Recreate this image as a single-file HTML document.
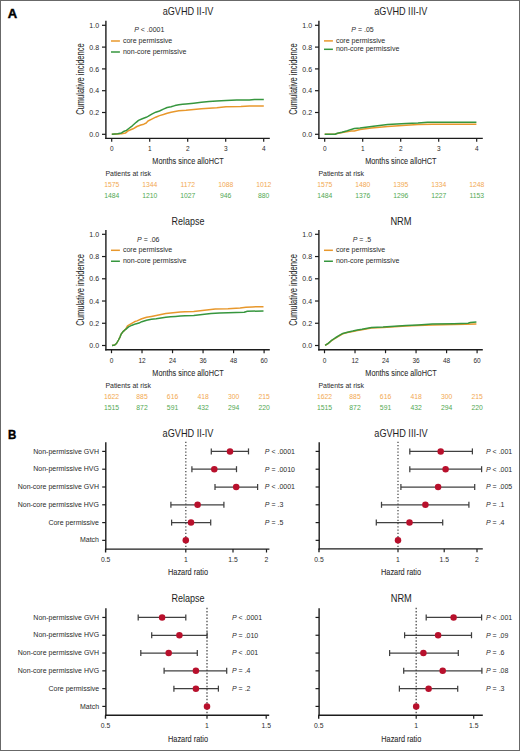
<!DOCTYPE html>
<html><head><meta charset="utf-8"><title>Figure</title>
<style>
html,body{margin:0;padding:0;background:#fff;}
body{width:520px;height:751px;overflow:hidden;}
svg{display:block;font-family:"Liberation Sans", sans-serif;}
</style></head>
<body>
<svg width="520" height="751" viewBox="0 0 520 751">
<rect x="0" y="0" width="520" height="751" fill="#fff"/>
<line x1="105.90" y1="20.80" x2="105.90" y2="139.10" stroke="#1c1c1c" stroke-width="1.4"/>
<line x1="105.20" y1="138.40" x2="269.80" y2="138.40" stroke="#1c1c1c" stroke-width="1.4"/>
<line x1="102.00" y1="134.30" x2="105.90" y2="134.30" stroke="#1c1c1c" stroke-width="1.2"/>
<text x="99.10" y="136.90" font-size="8.0" fill="#2b2b2b" text-anchor="end" textLength="9.73" lengthAdjust="spacingAndGlyphs">0.0</text>
<line x1="102.00" y1="112.50" x2="105.90" y2="112.50" stroke="#1c1c1c" stroke-width="1.2"/>
<text x="99.10" y="115.10" font-size="8.0" fill="#2b2b2b" text-anchor="end" textLength="9.73" lengthAdjust="spacingAndGlyphs">0.2</text>
<line x1="102.00" y1="90.70" x2="105.90" y2="90.70" stroke="#1c1c1c" stroke-width="1.2"/>
<text x="99.10" y="93.30" font-size="8.0" fill="#2b2b2b" text-anchor="end" textLength="9.73" lengthAdjust="spacingAndGlyphs">0.4</text>
<line x1="102.00" y1="68.90" x2="105.90" y2="68.90" stroke="#1c1c1c" stroke-width="1.2"/>
<text x="99.10" y="71.50" font-size="8.0" fill="#2b2b2b" text-anchor="end" textLength="9.73" lengthAdjust="spacingAndGlyphs">0.6</text>
<line x1="102.00" y1="47.10" x2="105.90" y2="47.10" stroke="#1c1c1c" stroke-width="1.2"/>
<text x="99.10" y="49.70" font-size="8.0" fill="#2b2b2b" text-anchor="end" textLength="9.73" lengthAdjust="spacingAndGlyphs">0.8</text>
<line x1="102.00" y1="25.30" x2="105.90" y2="25.30" stroke="#1c1c1c" stroke-width="1.2"/>
<text x="99.10" y="27.90" font-size="8.0" fill="#2b2b2b" text-anchor="end" textLength="9.73" lengthAdjust="spacingAndGlyphs">1.0</text>
<line x1="111.70" y1="138.40" x2="111.70" y2="141.80" stroke="#1c1c1c" stroke-width="1.2"/>
<text x="111.70" y="150.90" font-size="8.0" fill="#2b2b2b" text-anchor="middle" textLength="3.62" lengthAdjust="spacingAndGlyphs">0</text>
<line x1="149.70" y1="138.40" x2="149.70" y2="141.80" stroke="#1c1c1c" stroke-width="1.2"/>
<text x="149.70" y="150.90" font-size="8.0" fill="#2b2b2b" text-anchor="middle" textLength="3.62" lengthAdjust="spacingAndGlyphs">1</text>
<line x1="187.70" y1="138.40" x2="187.70" y2="141.80" stroke="#1c1c1c" stroke-width="1.2"/>
<text x="187.70" y="150.90" font-size="8.0" fill="#2b2b2b" text-anchor="middle" textLength="3.62" lengthAdjust="spacingAndGlyphs">2</text>
<line x1="225.70" y1="138.40" x2="225.70" y2="141.80" stroke="#1c1c1c" stroke-width="1.2"/>
<text x="225.70" y="150.90" font-size="8.0" fill="#2b2b2b" text-anchor="middle" textLength="3.62" lengthAdjust="spacingAndGlyphs">3</text>
<line x1="263.70" y1="138.40" x2="263.70" y2="141.80" stroke="#1c1c1c" stroke-width="1.2"/>
<text x="263.70" y="150.90" font-size="8.0" fill="#2b2b2b" text-anchor="middle" textLength="3.62" lengthAdjust="spacingAndGlyphs">4</text>
<text x="188.00" y="15.40" font-size="10.2" fill="#1e1e1e" text-anchor="middle" textLength="50.57" lengthAdjust="spacingAndGlyphs">aGVHD II-IV</text>
<text x="188.00" y="164.30" font-size="9.9" fill="#2a2a2a" text-anchor="middle" textLength="71.30" lengthAdjust="spacingAndGlyphs" stroke="#2a2a2a" stroke-width="0.08">Months since alloHCT</text>
<text transform="translate(84.00,79.10) rotate(-90)" x="0" y="0" font-size="10.3" fill="#2a2a2a" stroke="#2a2a2a" stroke-width="0.08" text-anchor="middle" textLength="71.5" lengthAdjust="spacingAndGlyphs">Cumulative incidence</text>
<text x="134.20" y="31.70" font-size="7.5" fill="#2b2b2b" textLength="30.16" lengthAdjust="spacingAndGlyphs"><tspan font-style="italic">P</tspan> &lt; .0001</text>
<line x1="111.00" y1="41.00" x2="119.90" y2="41.00" stroke="#E8982C" stroke-width="1.5"/>
<line x1="111.00" y1="52.00" x2="119.90" y2="52.00" stroke="#36963E" stroke-width="1.5"/>
<text x="122.90" y="42.80" font-size="7.5" fill="#2b2b2b" textLength="49.36" lengthAdjust="spacingAndGlyphs">core permissive</text>
<text x="122.90" y="53.80" font-size="7.5" fill="#2b2b2b" textLength="63.47" lengthAdjust="spacingAndGlyphs">non-core permissive</text>
<path d="M111.8,134.2 L121.5,133.8 L125.4,133.1 L127.7,131.2 L130.0,130.0 L133.1,128.8 L136.9,126.5 L140.8,125.0 L143.8,124.2 L146.2,123.0 L148.0,121.0 L151.8,119.1 L155.7,117.2 L159.5,115.6 L163.4,114.5 L167.2,113.3 L171.1,112.2 L174.9,111.4 L178.8,110.8 L182.6,110.5 L186.0,110.3 L193.7,109.6 L201.4,108.8 L209.1,108.2 L216.8,107.7 L226.0,106.8 L240.9,106.5 L249.4,106.0 L263.8,106.0" fill="none" stroke="#E8982C" stroke-width="1.5" stroke-linejoin="round"/>
<path d="M111.8,134.2 L117.7,133.7 L121.5,132.9 L124.2,131.2 L126.5,130.4 L128.8,128.5 L132.3,125.8 L136.2,122.3 L138.5,120.4 L142.3,118.8 L146.2,117.3 L148.0,116.4 L151.8,114.1 L155.7,112.2 L159.5,111.0 L163.4,109.1 L167.2,107.5 L171.1,106.8 L174.9,105.6 L178.8,104.8 L182.6,104.3 L186.0,104.0 L193.7,103.2 L201.4,102.3 L209.1,101.5 L216.8,101.1 L226.0,100.5 L236.7,100.1 L249.4,100.1 L254.5,99.5 L263.8,99.5" fill="none" stroke="#36963E" stroke-width="1.5" stroke-linejoin="round"/>
<text x="105.40" y="175.80" font-size="7.5" fill="#2b2b2b" textLength="45.58" lengthAdjust="spacingAndGlyphs">Patients at risk</text>
<text x="111.70" y="187.00" font-size="7.2" fill="#F2A850" text-anchor="middle" textLength="15.13" lengthAdjust="spacingAndGlyphs">1575</text>
<text x="111.70" y="197.80" font-size="7.2" fill="#52A852" text-anchor="middle" textLength="15.13" lengthAdjust="spacingAndGlyphs">1484</text>
<text x="149.70" y="187.00" font-size="7.2" fill="#F2A850" text-anchor="middle" textLength="15.13" lengthAdjust="spacingAndGlyphs">1344</text>
<text x="149.70" y="197.80" font-size="7.2" fill="#52A852" text-anchor="middle" textLength="15.13" lengthAdjust="spacingAndGlyphs">1210</text>
<text x="187.70" y="187.00" font-size="7.2" fill="#F2A850" text-anchor="middle" textLength="14.62" lengthAdjust="spacingAndGlyphs">1172</text>
<text x="187.70" y="197.80" font-size="7.2" fill="#52A852" text-anchor="middle" textLength="15.13" lengthAdjust="spacingAndGlyphs">1027</text>
<text x="225.70" y="187.00" font-size="7.2" fill="#F2A850" text-anchor="middle" textLength="15.13" lengthAdjust="spacingAndGlyphs">1088</text>
<text x="225.70" y="197.80" font-size="7.2" fill="#52A852" text-anchor="middle" textLength="11.35" lengthAdjust="spacingAndGlyphs">946</text>
<text x="263.70" y="187.00" font-size="7.2" fill="#F2A850" text-anchor="middle" textLength="15.13" lengthAdjust="spacingAndGlyphs">1012</text>
<text x="263.70" y="197.80" font-size="7.2" fill="#52A852" text-anchor="middle" textLength="11.35" lengthAdjust="spacingAndGlyphs">880</text>
<line x1="318.90" y1="20.80" x2="318.90" y2="139.10" stroke="#1c1c1c" stroke-width="1.4"/>
<line x1="318.20" y1="138.40" x2="482.80" y2="138.40" stroke="#1c1c1c" stroke-width="1.4"/>
<line x1="315.00" y1="134.30" x2="318.90" y2="134.30" stroke="#1c1c1c" stroke-width="1.2"/>
<text x="312.10" y="136.90" font-size="8.0" fill="#2b2b2b" text-anchor="end" textLength="9.73" lengthAdjust="spacingAndGlyphs">0.0</text>
<line x1="315.00" y1="112.50" x2="318.90" y2="112.50" stroke="#1c1c1c" stroke-width="1.2"/>
<text x="312.10" y="115.10" font-size="8.0" fill="#2b2b2b" text-anchor="end" textLength="9.73" lengthAdjust="spacingAndGlyphs">0.2</text>
<line x1="315.00" y1="90.70" x2="318.90" y2="90.70" stroke="#1c1c1c" stroke-width="1.2"/>
<text x="312.10" y="93.30" font-size="8.0" fill="#2b2b2b" text-anchor="end" textLength="9.73" lengthAdjust="spacingAndGlyphs">0.4</text>
<line x1="315.00" y1="68.90" x2="318.90" y2="68.90" stroke="#1c1c1c" stroke-width="1.2"/>
<text x="312.10" y="71.50" font-size="8.0" fill="#2b2b2b" text-anchor="end" textLength="9.73" lengthAdjust="spacingAndGlyphs">0.6</text>
<line x1="315.00" y1="47.10" x2="318.90" y2="47.10" stroke="#1c1c1c" stroke-width="1.2"/>
<text x="312.10" y="49.70" font-size="8.0" fill="#2b2b2b" text-anchor="end" textLength="9.73" lengthAdjust="spacingAndGlyphs">0.8</text>
<line x1="315.00" y1="25.30" x2="318.90" y2="25.30" stroke="#1c1c1c" stroke-width="1.2"/>
<text x="312.10" y="27.90" font-size="8.0" fill="#2b2b2b" text-anchor="end" textLength="9.73" lengthAdjust="spacingAndGlyphs">1.0</text>
<line x1="324.70" y1="138.40" x2="324.70" y2="141.80" stroke="#1c1c1c" stroke-width="1.2"/>
<text x="324.70" y="150.90" font-size="8.0" fill="#2b2b2b" text-anchor="middle" textLength="3.62" lengthAdjust="spacingAndGlyphs">0</text>
<line x1="362.70" y1="138.40" x2="362.70" y2="141.80" stroke="#1c1c1c" stroke-width="1.2"/>
<text x="362.70" y="150.90" font-size="8.0" fill="#2b2b2b" text-anchor="middle" textLength="3.62" lengthAdjust="spacingAndGlyphs">1</text>
<line x1="400.70" y1="138.40" x2="400.70" y2="141.80" stroke="#1c1c1c" stroke-width="1.2"/>
<text x="400.70" y="150.90" font-size="8.0" fill="#2b2b2b" text-anchor="middle" textLength="3.62" lengthAdjust="spacingAndGlyphs">2</text>
<line x1="438.70" y1="138.40" x2="438.70" y2="141.80" stroke="#1c1c1c" stroke-width="1.2"/>
<text x="438.70" y="150.90" font-size="8.0" fill="#2b2b2b" text-anchor="middle" textLength="3.62" lengthAdjust="spacingAndGlyphs">3</text>
<line x1="476.70" y1="138.40" x2="476.70" y2="141.80" stroke="#1c1c1c" stroke-width="1.2"/>
<text x="476.70" y="150.90" font-size="8.0" fill="#2b2b2b" text-anchor="middle" textLength="3.62" lengthAdjust="spacingAndGlyphs">4</text>
<text x="400.80" y="15.40" font-size="10.2" fill="#1e1e1e" text-anchor="middle" textLength="53.09" lengthAdjust="spacingAndGlyphs">aGVHD III-IV</text>
<text x="400.80" y="164.30" font-size="9.9" fill="#2a2a2a" text-anchor="middle" textLength="71.30" lengthAdjust="spacingAndGlyphs" stroke="#2a2a2a" stroke-width="0.08">Months since alloHCT</text>
<text transform="translate(296.80,79.10) rotate(-90)" x="0" y="0" font-size="10.3" fill="#2a2a2a" stroke="#2a2a2a" stroke-width="0.08" text-anchor="middle" textLength="71.5" lengthAdjust="spacingAndGlyphs">Cumulative incidence</text>
<text x="351.30" y="31.70" font-size="7.5" fill="#2b2b2b" textLength="22.38" lengthAdjust="spacingAndGlyphs"><tspan font-style="italic">P</tspan> = .05</text>
<line x1="324.00" y1="40.90" x2="332.90" y2="40.90" stroke="#E8982C" stroke-width="1.5"/>
<line x1="324.00" y1="49.30" x2="332.90" y2="49.30" stroke="#36963E" stroke-width="1.5"/>
<text x="335.90" y="42.90" font-size="7.5" fill="#2b2b2b" textLength="49.36" lengthAdjust="spacingAndGlyphs">core permissive</text>
<text x="335.90" y="51.30" font-size="7.5" fill="#2b2b2b" textLength="63.47" lengthAdjust="spacingAndGlyphs">non-core permissive</text>
<path d="M324.7,134.2 L335.1,134.2 L337.4,133.4 L341.0,132.8 L345.1,132.1 L351.2,131.1 L354.3,130.9 L360.0,129.4 L371.5,127.9 L387.7,126.4 L406.1,125.3 L418.0,124.5 L432.3,124.3 L476.4,124.3" fill="none" stroke="#E8982C" stroke-width="1.5" stroke-linejoin="round"/>
<path d="M324.7,134.2 L335.1,134.2 L337.4,133.2 L342.0,132.3 L347.4,130.8 L351.2,129.4 L354.3,128.6 L360.0,128.1 L371.5,126.4 L387.7,124.5 L406.1,123.5 L418.0,122.9 L427.5,122.2 L476.4,122.2" fill="none" stroke="#36963E" stroke-width="1.5" stroke-linejoin="round"/>
<text x="318.40" y="175.80" font-size="7.5" fill="#2b2b2b" textLength="45.58" lengthAdjust="spacingAndGlyphs">Patients at risk</text>
<text x="324.70" y="187.00" font-size="7.2" fill="#F2A850" text-anchor="middle" textLength="15.13" lengthAdjust="spacingAndGlyphs">1575</text>
<text x="324.70" y="197.80" font-size="7.2" fill="#52A852" text-anchor="middle" textLength="15.13" lengthAdjust="spacingAndGlyphs">1484</text>
<text x="362.70" y="187.00" font-size="7.2" fill="#F2A850" text-anchor="middle" textLength="15.13" lengthAdjust="spacingAndGlyphs">1480</text>
<text x="362.70" y="197.80" font-size="7.2" fill="#52A852" text-anchor="middle" textLength="15.13" lengthAdjust="spacingAndGlyphs">1376</text>
<text x="400.70" y="187.00" font-size="7.2" fill="#F2A850" text-anchor="middle" textLength="15.13" lengthAdjust="spacingAndGlyphs">1395</text>
<text x="400.70" y="197.80" font-size="7.2" fill="#52A852" text-anchor="middle" textLength="15.13" lengthAdjust="spacingAndGlyphs">1296</text>
<text x="438.70" y="187.00" font-size="7.2" fill="#F2A850" text-anchor="middle" textLength="15.13" lengthAdjust="spacingAndGlyphs">1334</text>
<text x="438.70" y="197.80" font-size="7.2" fill="#52A852" text-anchor="middle" textLength="15.13" lengthAdjust="spacingAndGlyphs">1227</text>
<text x="476.70" y="187.00" font-size="7.2" fill="#F2A850" text-anchor="middle" textLength="15.13" lengthAdjust="spacingAndGlyphs">1248</text>
<text x="476.70" y="197.80" font-size="7.2" fill="#52A852" text-anchor="middle" textLength="14.62" lengthAdjust="spacingAndGlyphs">1153</text>
<line x1="105.90" y1="230.00" x2="105.90" y2="350.50" stroke="#1c1c1c" stroke-width="1.4"/>
<line x1="105.20" y1="349.80" x2="269.80" y2="349.80" stroke="#1c1c1c" stroke-width="1.4"/>
<line x1="102.00" y1="345.50" x2="105.90" y2="345.50" stroke="#1c1c1c" stroke-width="1.2"/>
<text x="99.10" y="348.10" font-size="8.0" fill="#2b2b2b" text-anchor="end" textLength="9.73" lengthAdjust="spacingAndGlyphs">0.0</text>
<line x1="102.00" y1="323.26" x2="105.90" y2="323.26" stroke="#1c1c1c" stroke-width="1.2"/>
<text x="99.10" y="325.86" font-size="8.0" fill="#2b2b2b" text-anchor="end" textLength="9.73" lengthAdjust="spacingAndGlyphs">0.2</text>
<line x1="102.00" y1="301.02" x2="105.90" y2="301.02" stroke="#1c1c1c" stroke-width="1.2"/>
<text x="99.10" y="303.62" font-size="8.0" fill="#2b2b2b" text-anchor="end" textLength="9.73" lengthAdjust="spacingAndGlyphs">0.4</text>
<line x1="102.00" y1="278.78" x2="105.90" y2="278.78" stroke="#1c1c1c" stroke-width="1.2"/>
<text x="99.10" y="281.38" font-size="8.0" fill="#2b2b2b" text-anchor="end" textLength="9.73" lengthAdjust="spacingAndGlyphs">0.6</text>
<line x1="102.00" y1="256.54" x2="105.90" y2="256.54" stroke="#1c1c1c" stroke-width="1.2"/>
<text x="99.10" y="259.14" font-size="8.0" fill="#2b2b2b" text-anchor="end" textLength="9.73" lengthAdjust="spacingAndGlyphs">0.8</text>
<line x1="102.00" y1="234.30" x2="105.90" y2="234.30" stroke="#1c1c1c" stroke-width="1.2"/>
<text x="99.10" y="236.90" font-size="8.0" fill="#2b2b2b" text-anchor="end" textLength="9.73" lengthAdjust="spacingAndGlyphs">1.0</text>
<line x1="111.50" y1="349.80" x2="111.50" y2="353.20" stroke="#1c1c1c" stroke-width="1.2"/>
<text x="111.50" y="362.70" font-size="8.0" fill="#2b2b2b" text-anchor="middle" textLength="3.62" lengthAdjust="spacingAndGlyphs">0</text>
<line x1="142.02" y1="349.80" x2="142.02" y2="353.20" stroke="#1c1c1c" stroke-width="1.2"/>
<text x="142.02" y="362.70" font-size="8.0" fill="#2b2b2b" text-anchor="middle" textLength="7.23" lengthAdjust="spacingAndGlyphs">12</text>
<line x1="172.54" y1="349.80" x2="172.54" y2="353.20" stroke="#1c1c1c" stroke-width="1.2"/>
<text x="172.54" y="362.70" font-size="8.0" fill="#2b2b2b" text-anchor="middle" textLength="7.23" lengthAdjust="spacingAndGlyphs">24</text>
<line x1="203.06" y1="349.80" x2="203.06" y2="353.20" stroke="#1c1c1c" stroke-width="1.2"/>
<text x="203.06" y="362.70" font-size="8.0" fill="#2b2b2b" text-anchor="middle" textLength="7.23" lengthAdjust="spacingAndGlyphs">36</text>
<line x1="233.58" y1="349.80" x2="233.58" y2="353.20" stroke="#1c1c1c" stroke-width="1.2"/>
<text x="233.58" y="362.70" font-size="8.0" fill="#2b2b2b" text-anchor="middle" textLength="7.23" lengthAdjust="spacingAndGlyphs">48</text>
<line x1="264.10" y1="349.80" x2="264.10" y2="353.20" stroke="#1c1c1c" stroke-width="1.2"/>
<text x="264.10" y="362.70" font-size="8.0" fill="#2b2b2b" text-anchor="middle" textLength="7.23" lengthAdjust="spacingAndGlyphs">60</text>
<text x="188.00" y="224.80" font-size="10.2" fill="#1e1e1e" text-anchor="middle" textLength="32.84" lengthAdjust="spacingAndGlyphs">Relapse</text>
<text x="188.00" y="376.10" font-size="9.9" fill="#2a2a2a" text-anchor="middle" textLength="71.30" lengthAdjust="spacingAndGlyphs" stroke="#2a2a2a" stroke-width="0.08">Months since alloHCT</text>
<text transform="translate(84.00,289.90) rotate(-90)" x="0" y="0" font-size="10.3" fill="#2a2a2a" stroke="#2a2a2a" stroke-width="0.08" text-anchor="middle" textLength="71.5" lengthAdjust="spacingAndGlyphs">Cumulative incidence</text>
<text x="137.10" y="241.60" font-size="7.5" fill="#2b2b2b" textLength="22.38" lengthAdjust="spacingAndGlyphs"><tspan font-style="italic">P</tspan> = .06</text>
<line x1="111.00" y1="250.30" x2="119.90" y2="250.30" stroke="#E8982C" stroke-width="1.5"/>
<line x1="111.00" y1="261.25" x2="119.90" y2="261.25" stroke="#36963E" stroke-width="1.5"/>
<text x="122.90" y="252.45" font-size="7.5" fill="#2b2b2b" textLength="49.36" lengthAdjust="spacingAndGlyphs">core permissive</text>
<text x="122.90" y="263.40" font-size="7.5" fill="#2b2b2b" textLength="63.47" lengthAdjust="spacingAndGlyphs">non-core permissive</text>
<path d="M112.0,345.5 L114.8,344.9 L116.5,343.5 L118.5,340.0 L120.0,337.1 L121.1,334.2 L122.8,331.9 L125.7,329.1 L127.5,325.9 L130.9,323.8 L134.4,321.8 L137.0,320.9 L141.8,318.8 L146.6,317.3 L151.4,316.4 L156.2,315.4 L161.0,314.4 L165.8,313.5 L170.7,313.0 L175.5,312.5 L180.3,312.0 L185.0,311.8 L193.7,311.5 L202.3,310.6 L211.0,309.6 L215.3,309.1 L228.0,308.8 L240.1,308.0 L246.0,307.3 L252.2,306.9 L263.5,306.7" fill="none" stroke="#E8982C" stroke-width="1.5" stroke-linejoin="round"/>
<path d="M112.0,345.5 L114.8,344.9 L116.5,343.5 L118.5,340.0 L120.0,337.1 L121.1,334.2 L122.8,331.9 L125.7,329.3 L128.6,326.9 L132.1,325.2 L135.5,323.9 L139.0,323.1 L141.8,321.7 L146.6,320.2 L151.4,319.3 L156.2,318.8 L161.0,318.0 L165.8,317.3 L170.7,316.8 L175.5,316.4 L180.3,315.9 L185.0,315.7 L193.7,315.4 L202.3,314.5 L211.0,313.6 L219.6,313.0 L228.0,312.7 L244.2,312.2 L247.4,311.3 L263.5,310.9" fill="none" stroke="#36963E" stroke-width="1.5" stroke-linejoin="round"/>
<text x="105.40" y="387.80" font-size="7.5" fill="#2b2b2b" textLength="45.58" lengthAdjust="spacingAndGlyphs">Patients at risk</text>
<text x="111.50" y="398.60" font-size="7.2" fill="#F2A850" text-anchor="middle" textLength="15.13" lengthAdjust="spacingAndGlyphs">1622</text>
<text x="111.50" y="409.60" font-size="7.2" fill="#52A852" text-anchor="middle" textLength="15.13" lengthAdjust="spacingAndGlyphs">1515</text>
<text x="142.02" y="398.60" font-size="7.2" fill="#F2A850" text-anchor="middle" textLength="11.35" lengthAdjust="spacingAndGlyphs">885</text>
<text x="142.02" y="409.60" font-size="7.2" fill="#52A852" text-anchor="middle" textLength="11.35" lengthAdjust="spacingAndGlyphs">872</text>
<text x="172.54" y="398.60" font-size="7.2" fill="#F2A850" text-anchor="middle" textLength="11.35" lengthAdjust="spacingAndGlyphs">616</text>
<text x="172.54" y="409.60" font-size="7.2" fill="#52A852" text-anchor="middle" textLength="11.35" lengthAdjust="spacingAndGlyphs">591</text>
<text x="203.06" y="398.60" font-size="7.2" fill="#F2A850" text-anchor="middle" textLength="11.35" lengthAdjust="spacingAndGlyphs">418</text>
<text x="203.06" y="409.60" font-size="7.2" fill="#52A852" text-anchor="middle" textLength="11.35" lengthAdjust="spacingAndGlyphs">432</text>
<text x="233.58" y="398.60" font-size="7.2" fill="#F2A850" text-anchor="middle" textLength="11.35" lengthAdjust="spacingAndGlyphs">300</text>
<text x="233.58" y="409.60" font-size="7.2" fill="#52A852" text-anchor="middle" textLength="11.35" lengthAdjust="spacingAndGlyphs">294</text>
<text x="264.10" y="398.60" font-size="7.2" fill="#F2A850" text-anchor="middle" textLength="11.35" lengthAdjust="spacingAndGlyphs">215</text>
<text x="264.10" y="409.60" font-size="7.2" fill="#52A852" text-anchor="middle" textLength="11.35" lengthAdjust="spacingAndGlyphs">220</text>
<line x1="318.90" y1="230.00" x2="318.90" y2="350.50" stroke="#1c1c1c" stroke-width="1.4"/>
<line x1="318.20" y1="349.80" x2="482.80" y2="349.80" stroke="#1c1c1c" stroke-width="1.4"/>
<line x1="315.00" y1="345.50" x2="318.90" y2="345.50" stroke="#1c1c1c" stroke-width="1.2"/>
<text x="312.10" y="348.10" font-size="8.0" fill="#2b2b2b" text-anchor="end" textLength="9.73" lengthAdjust="spacingAndGlyphs">0.0</text>
<line x1="315.00" y1="323.26" x2="318.90" y2="323.26" stroke="#1c1c1c" stroke-width="1.2"/>
<text x="312.10" y="325.86" font-size="8.0" fill="#2b2b2b" text-anchor="end" textLength="9.73" lengthAdjust="spacingAndGlyphs">0.2</text>
<line x1="315.00" y1="301.02" x2="318.90" y2="301.02" stroke="#1c1c1c" stroke-width="1.2"/>
<text x="312.10" y="303.62" font-size="8.0" fill="#2b2b2b" text-anchor="end" textLength="9.73" lengthAdjust="spacingAndGlyphs">0.4</text>
<line x1="315.00" y1="278.78" x2="318.90" y2="278.78" stroke="#1c1c1c" stroke-width="1.2"/>
<text x="312.10" y="281.38" font-size="8.0" fill="#2b2b2b" text-anchor="end" textLength="9.73" lengthAdjust="spacingAndGlyphs">0.6</text>
<line x1="315.00" y1="256.54" x2="318.90" y2="256.54" stroke="#1c1c1c" stroke-width="1.2"/>
<text x="312.10" y="259.14" font-size="8.0" fill="#2b2b2b" text-anchor="end" textLength="9.73" lengthAdjust="spacingAndGlyphs">0.8</text>
<line x1="315.00" y1="234.30" x2="318.90" y2="234.30" stroke="#1c1c1c" stroke-width="1.2"/>
<text x="312.10" y="236.90" font-size="8.0" fill="#2b2b2b" text-anchor="end" textLength="9.73" lengthAdjust="spacingAndGlyphs">1.0</text>
<line x1="324.50" y1="349.80" x2="324.50" y2="353.20" stroke="#1c1c1c" stroke-width="1.2"/>
<text x="324.50" y="362.70" font-size="8.0" fill="#2b2b2b" text-anchor="middle" textLength="3.62" lengthAdjust="spacingAndGlyphs">0</text>
<line x1="355.02" y1="349.80" x2="355.02" y2="353.20" stroke="#1c1c1c" stroke-width="1.2"/>
<text x="355.02" y="362.70" font-size="8.0" fill="#2b2b2b" text-anchor="middle" textLength="7.23" lengthAdjust="spacingAndGlyphs">12</text>
<line x1="385.54" y1="349.80" x2="385.54" y2="353.20" stroke="#1c1c1c" stroke-width="1.2"/>
<text x="385.54" y="362.70" font-size="8.0" fill="#2b2b2b" text-anchor="middle" textLength="7.23" lengthAdjust="spacingAndGlyphs">24</text>
<line x1="416.06" y1="349.80" x2="416.06" y2="353.20" stroke="#1c1c1c" stroke-width="1.2"/>
<text x="416.06" y="362.70" font-size="8.0" fill="#2b2b2b" text-anchor="middle" textLength="7.23" lengthAdjust="spacingAndGlyphs">36</text>
<line x1="446.58" y1="349.80" x2="446.58" y2="353.20" stroke="#1c1c1c" stroke-width="1.2"/>
<text x="446.58" y="362.70" font-size="8.0" fill="#2b2b2b" text-anchor="middle" textLength="7.23" lengthAdjust="spacingAndGlyphs">48</text>
<line x1="477.10" y1="349.80" x2="477.10" y2="353.20" stroke="#1c1c1c" stroke-width="1.2"/>
<text x="477.10" y="362.70" font-size="8.0" fill="#2b2b2b" text-anchor="middle" textLength="7.23" lengthAdjust="spacingAndGlyphs">60</text>
<text x="401.00" y="224.80" font-size="10.2" fill="#1e1e1e" text-anchor="middle" textLength="21.18" lengthAdjust="spacingAndGlyphs">NRM</text>
<text x="401.00" y="376.10" font-size="9.9" fill="#2a2a2a" text-anchor="middle" textLength="71.30" lengthAdjust="spacingAndGlyphs" stroke="#2a2a2a" stroke-width="0.08">Months since alloHCT</text>
<text transform="translate(296.80,289.90) rotate(-90)" x="0" y="0" font-size="10.3" fill="#2a2a2a" stroke="#2a2a2a" stroke-width="0.08" text-anchor="middle" textLength="71.5" lengthAdjust="spacingAndGlyphs">Cumulative incidence</text>
<text x="352.70" y="241.60" font-size="7.5" fill="#2b2b2b" textLength="18.48" lengthAdjust="spacingAndGlyphs"><tspan font-style="italic">P</tspan> = .5</text>
<line x1="324.00" y1="250.30" x2="332.90" y2="250.30" stroke="#E8982C" stroke-width="1.5"/>
<line x1="324.00" y1="261.25" x2="332.90" y2="261.25" stroke="#36963E" stroke-width="1.5"/>
<text x="335.90" y="252.45" font-size="7.5" fill="#2b2b2b" textLength="49.36" lengthAdjust="spacingAndGlyphs">core permissive</text>
<text x="335.90" y="263.40" font-size="7.5" fill="#2b2b2b" textLength="63.47" lengthAdjust="spacingAndGlyphs">non-core permissive</text>
<path d="M325.1,345.3 L328.2,343.5 L331.2,340.9 L335.1,338.3 L338.9,336.0 L342.8,333.8 L347.4,332.6 L352.8,331.5 L357.4,330.4 L362.0,329.7 L371.5,328.1 L383.1,327.6 L394.6,326.8 L406.1,326.1 L418.0,325.5 L432.3,324.9 L453.8,324.6 L465.7,324.3 L476.4,323.9" fill="none" stroke="#E8982C" stroke-width="1.5" stroke-linejoin="round"/>
<path d="M325.1,345.3 L328.2,343.4 L331.2,340.7 L335.1,338.0 L338.9,335.7 L342.8,333.4 L347.4,332.2 L352.8,331.1 L357.4,329.9 L362.0,329.2 L371.5,327.5 L383.1,327.0 L394.6,326.2 L406.1,325.5 L418.0,324.9 L432.3,323.9 L453.8,323.7 L468.1,323.3 L470.4,322.5 L476.4,322.1" fill="none" stroke="#36963E" stroke-width="1.5" stroke-linejoin="round"/>
<text x="318.40" y="387.80" font-size="7.5" fill="#2b2b2b" textLength="45.58" lengthAdjust="spacingAndGlyphs">Patients at risk</text>
<text x="324.50" y="398.60" font-size="7.2" fill="#F2A850" text-anchor="middle" textLength="15.13" lengthAdjust="spacingAndGlyphs">1622</text>
<text x="324.50" y="409.60" font-size="7.2" fill="#52A852" text-anchor="middle" textLength="15.13" lengthAdjust="spacingAndGlyphs">1515</text>
<text x="355.02" y="398.60" font-size="7.2" fill="#F2A850" text-anchor="middle" textLength="11.35" lengthAdjust="spacingAndGlyphs">885</text>
<text x="355.02" y="409.60" font-size="7.2" fill="#52A852" text-anchor="middle" textLength="11.35" lengthAdjust="spacingAndGlyphs">872</text>
<text x="385.54" y="398.60" font-size="7.2" fill="#F2A850" text-anchor="middle" textLength="11.35" lengthAdjust="spacingAndGlyphs">616</text>
<text x="385.54" y="409.60" font-size="7.2" fill="#52A852" text-anchor="middle" textLength="11.35" lengthAdjust="spacingAndGlyphs">591</text>
<text x="416.06" y="398.60" font-size="7.2" fill="#F2A850" text-anchor="middle" textLength="11.35" lengthAdjust="spacingAndGlyphs">418</text>
<text x="416.06" y="409.60" font-size="7.2" fill="#52A852" text-anchor="middle" textLength="11.35" lengthAdjust="spacingAndGlyphs">432</text>
<text x="446.58" y="398.60" font-size="7.2" fill="#F2A850" text-anchor="middle" textLength="11.35" lengthAdjust="spacingAndGlyphs">300</text>
<text x="446.58" y="409.60" font-size="7.2" fill="#52A852" text-anchor="middle" textLength="11.35" lengthAdjust="spacingAndGlyphs">294</text>
<text x="477.10" y="398.60" font-size="7.2" fill="#F2A850" text-anchor="middle" textLength="11.35" lengthAdjust="spacingAndGlyphs">215</text>
<text x="477.10" y="409.60" font-size="7.2" fill="#52A852" text-anchor="middle" textLength="11.35" lengthAdjust="spacingAndGlyphs">220</text>
<line x1="105.80" y1="442.20" x2="105.80" y2="549.80" stroke="#1c1c1c" stroke-width="1.4"/>
<line x1="105.10" y1="549.10" x2="269.40" y2="549.10" stroke="#1c1c1c" stroke-width="1.4"/>
<line x1="185.80" y1="441.65" x2="185.80" y2="548.50" stroke="#5a5a5a" stroke-width="1.4" stroke-dasharray="1.45 1.8"/>
<line x1="102.20" y1="451.40" x2="105.80" y2="451.40" stroke="#1c1c1c" stroke-width="1.2"/>
<text x="99.00" y="453.50" font-size="7.5" fill="#2b2b2b" text-anchor="end" textLength="65.74" lengthAdjust="spacingAndGlyphs">Non-permissive GVH</text>
<line x1="102.20" y1="469.20" x2="105.80" y2="469.20" stroke="#1c1c1c" stroke-width="1.2"/>
<text x="99.00" y="471.30" font-size="7.5" fill="#2b2b2b" text-anchor="end" textLength="65.74" lengthAdjust="spacingAndGlyphs">Non-permissive HVG</text>
<line x1="102.20" y1="487.00" x2="105.80" y2="487.00" stroke="#1c1c1c" stroke-width="1.2"/>
<text x="99.00" y="489.10" font-size="7.5" fill="#2b2b2b" text-anchor="end" textLength="81.30" lengthAdjust="spacingAndGlyphs">Non-core permissive GVH</text>
<line x1="102.20" y1="504.80" x2="105.80" y2="504.80" stroke="#1c1c1c" stroke-width="1.2"/>
<text x="99.00" y="506.90" font-size="7.5" fill="#2b2b2b" text-anchor="end" textLength="81.30" lengthAdjust="spacingAndGlyphs">Non-core permissive HVG</text>
<line x1="102.20" y1="522.60" x2="105.80" y2="522.60" stroke="#1c1c1c" stroke-width="1.2"/>
<text x="99.00" y="524.70" font-size="7.5" fill="#2b2b2b" text-anchor="end" textLength="50.57" lengthAdjust="spacingAndGlyphs">Core permissive</text>
<line x1="102.20" y1="540.35" x2="105.80" y2="540.35" stroke="#1c1c1c" stroke-width="1.2"/>
<text x="99.00" y="542.45" font-size="7.5" fill="#2b2b2b" text-anchor="end" textLength="19.06" lengthAdjust="spacingAndGlyphs">Match</text>
<line x1="105.60" y1="549.10" x2="105.60" y2="552.50" stroke="#1c1c1c" stroke-width="1.4"/>
<text x="105.60" y="562.20" font-size="8.0" fill="#2b2b2b" text-anchor="middle" textLength="9.45" lengthAdjust="spacingAndGlyphs">0.5</text>
<line x1="185.80" y1="549.10" x2="185.80" y2="552.50" stroke="#1c1c1c" stroke-width="1.2"/>
<text x="185.80" y="562.20" font-size="8.0" fill="#2b2b2b" text-anchor="middle" textLength="3.78" lengthAdjust="spacingAndGlyphs">1</text>
<line x1="233.00" y1="549.10" x2="233.00" y2="552.50" stroke="#1c1c1c" stroke-width="1.2"/>
<text x="233.00" y="562.20" font-size="8.0" fill="#2b2b2b" text-anchor="middle" textLength="9.45" lengthAdjust="spacingAndGlyphs">1.5</text>
<line x1="266.50" y1="549.10" x2="266.50" y2="552.50" stroke="#1c1c1c" stroke-width="1.2"/>
<text x="266.50" y="562.20" font-size="8.0" fill="#2b2b2b" text-anchor="middle" textLength="3.78" lengthAdjust="spacingAndGlyphs">2</text>
<line x1="211.30" y1="451.40" x2="248.50" y2="451.40" stroke="#404040" stroke-width="1.25"/>
<line x1="211.30" y1="448.40" x2="211.30" y2="454.40" stroke="#404040" stroke-width="1.25"/>
<line x1="248.50" y1="448.40" x2="248.50" y2="454.40" stroke="#404040" stroke-width="1.25"/>
<circle cx="230.00" cy="451.40" r="3.25" fill="#B8102C"/>
<text x="264.80" y="453.70" font-size="7.5" fill="#2b2b2b" textLength="30.16" lengthAdjust="spacingAndGlyphs"><tspan font-style="italic">P</tspan> &lt; .0001</text>
<line x1="191.90" y1="469.20" x2="236.50" y2="469.20" stroke="#404040" stroke-width="1.25"/>
<line x1="191.90" y1="466.20" x2="191.90" y2="472.20" stroke="#404040" stroke-width="1.25"/>
<line x1="236.50" y1="466.20" x2="236.50" y2="472.20" stroke="#404040" stroke-width="1.25"/>
<circle cx="214.30" cy="469.20" r="3.25" fill="#B8102C"/>
<text x="264.80" y="471.50" font-size="7.5" fill="#2b2b2b" textLength="30.16" lengthAdjust="spacingAndGlyphs"><tspan font-style="italic">P</tspan> = .0010</text>
<line x1="215.00" y1="487.00" x2="257.60" y2="487.00" stroke="#404040" stroke-width="1.25"/>
<line x1="215.00" y1="484.00" x2="215.00" y2="490.00" stroke="#404040" stroke-width="1.25"/>
<line x1="257.60" y1="484.00" x2="257.60" y2="490.00" stroke="#404040" stroke-width="1.25"/>
<circle cx="236.20" cy="487.00" r="3.25" fill="#B8102C"/>
<text x="264.80" y="489.30" font-size="7.5" fill="#2b2b2b" textLength="30.16" lengthAdjust="spacingAndGlyphs"><tspan font-style="italic">P</tspan> &lt; .0001</text>
<line x1="170.90" y1="504.80" x2="223.90" y2="504.80" stroke="#404040" stroke-width="1.25"/>
<line x1="170.90" y1="501.80" x2="170.90" y2="507.80" stroke="#404040" stroke-width="1.25"/>
<line x1="223.90" y1="501.80" x2="223.90" y2="507.80" stroke="#404040" stroke-width="1.25"/>
<circle cx="197.60" cy="504.80" r="3.25" fill="#B8102C"/>
<text x="264.80" y="507.10" font-size="7.5" fill="#2b2b2b" textLength="18.48" lengthAdjust="spacingAndGlyphs"><tspan font-style="italic">P</tspan> = .3</text>
<line x1="171.60" y1="522.60" x2="210.70" y2="522.60" stroke="#404040" stroke-width="1.25"/>
<line x1="171.60" y1="519.60" x2="171.60" y2="525.60" stroke="#404040" stroke-width="1.25"/>
<line x1="210.70" y1="519.60" x2="210.70" y2="525.60" stroke="#404040" stroke-width="1.25"/>
<circle cx="191.00" cy="522.60" r="3.25" fill="#B8102C"/>
<text x="264.80" y="524.90" font-size="7.5" fill="#2b2b2b" textLength="18.48" lengthAdjust="spacingAndGlyphs"><tspan font-style="italic">P</tspan> = .5</text>
<circle cx="185.80" cy="540.35" r="3.25" fill="#B8102C"/>
<text x="188.00" y="436.70" font-size="10.2" fill="#1e1e1e" text-anchor="middle" textLength="50.84" lengthAdjust="spacingAndGlyphs">aGVHD II-IV</text>
<text x="188.00" y="575.20" font-size="9.8" fill="#2a2a2a" text-anchor="middle" textLength="40.00" lengthAdjust="spacingAndGlyphs" stroke="#2a2a2a" stroke-width="0.08">Hazard ratio</text>
<line x1="319.20" y1="442.20" x2="319.20" y2="549.60" stroke="#1c1c1c" stroke-width="1.4"/>
<line x1="318.50" y1="548.90" x2="482.80" y2="548.90" stroke="#1c1c1c" stroke-width="1.4"/>
<line x1="398.00" y1="441.65" x2="398.00" y2="548.30" stroke="#5a5a5a" stroke-width="1.4" stroke-dasharray="1.45 1.8"/>
<line x1="315.60" y1="451.40" x2="319.20" y2="451.40" stroke="#1c1c1c" stroke-width="1.2"/>
<line x1="315.60" y1="469.20" x2="319.20" y2="469.20" stroke="#1c1c1c" stroke-width="1.2"/>
<line x1="315.60" y1="487.00" x2="319.20" y2="487.00" stroke="#1c1c1c" stroke-width="1.2"/>
<line x1="315.60" y1="504.80" x2="319.20" y2="504.80" stroke="#1c1c1c" stroke-width="1.2"/>
<line x1="315.60" y1="522.60" x2="319.20" y2="522.60" stroke="#1c1c1c" stroke-width="1.2"/>
<line x1="315.60" y1="540.35" x2="319.20" y2="540.35" stroke="#1c1c1c" stroke-width="1.2"/>
<line x1="319.00" y1="548.90" x2="319.00" y2="552.30" stroke="#1c1c1c" stroke-width="1.4"/>
<text x="319.00" y="562.20" font-size="8.0" fill="#2b2b2b" text-anchor="middle" textLength="9.45" lengthAdjust="spacingAndGlyphs">0.5</text>
<line x1="398.00" y1="548.90" x2="398.00" y2="552.30" stroke="#1c1c1c" stroke-width="1.2"/>
<text x="398.00" y="562.20" font-size="8.0" fill="#2b2b2b" text-anchor="middle" textLength="3.78" lengthAdjust="spacingAndGlyphs">1</text>
<line x1="444.20" y1="548.90" x2="444.20" y2="552.30" stroke="#1c1c1c" stroke-width="1.2"/>
<text x="444.20" y="562.20" font-size="8.0" fill="#2b2b2b" text-anchor="middle" textLength="9.45" lengthAdjust="spacingAndGlyphs">1.5</text>
<line x1="477.00" y1="548.90" x2="477.00" y2="552.30" stroke="#1c1c1c" stroke-width="1.2"/>
<text x="477.00" y="562.20" font-size="8.0" fill="#2b2b2b" text-anchor="middle" textLength="3.78" lengthAdjust="spacingAndGlyphs">2</text>
<line x1="409.80" y1="451.40" x2="472.40" y2="451.40" stroke="#404040" stroke-width="1.25"/>
<line x1="409.80" y1="448.40" x2="409.80" y2="454.40" stroke="#404040" stroke-width="1.25"/>
<line x1="472.40" y1="448.40" x2="472.40" y2="454.40" stroke="#404040" stroke-width="1.25"/>
<circle cx="440.70" cy="451.40" r="3.25" fill="#B8102C"/>
<text x="486.00" y="453.70" font-size="7.5" fill="#2b2b2b" textLength="26.27" lengthAdjust="spacingAndGlyphs"><tspan font-style="italic">P</tspan> &lt; .001</text>
<line x1="409.80" y1="469.20" x2="481.60" y2="469.20" stroke="#404040" stroke-width="1.25"/>
<line x1="409.80" y1="466.20" x2="409.80" y2="472.20" stroke="#404040" stroke-width="1.25"/>
<line x1="481.60" y1="466.20" x2="481.60" y2="472.20" stroke="#404040" stroke-width="1.25"/>
<circle cx="445.60" cy="469.20" r="3.25" fill="#B8102C"/>
<text x="486.00" y="471.50" font-size="7.5" fill="#2b2b2b" textLength="26.27" lengthAdjust="spacingAndGlyphs"><tspan font-style="italic">P</tspan> &lt; .001</text>
<line x1="400.90" y1="487.00" x2="474.70" y2="487.00" stroke="#404040" stroke-width="1.25"/>
<line x1="400.90" y1="484.00" x2="400.90" y2="490.00" stroke="#404040" stroke-width="1.25"/>
<line x1="474.70" y1="484.00" x2="474.70" y2="490.00" stroke="#404040" stroke-width="1.25"/>
<circle cx="438.10" cy="487.00" r="3.25" fill="#B8102C"/>
<text x="486.00" y="489.30" font-size="7.5" fill="#2b2b2b" textLength="26.27" lengthAdjust="spacingAndGlyphs"><tspan font-style="italic">P</tspan> = .005</text>
<line x1="381.50" y1="504.80" x2="468.90" y2="504.80" stroke="#404040" stroke-width="1.25"/>
<line x1="381.50" y1="501.80" x2="381.50" y2="507.80" stroke="#404040" stroke-width="1.25"/>
<line x1="468.90" y1="501.80" x2="468.90" y2="507.80" stroke="#404040" stroke-width="1.25"/>
<circle cx="425.40" cy="504.80" r="3.25" fill="#B8102C"/>
<text x="486.00" y="507.10" font-size="7.5" fill="#2b2b2b" textLength="18.48" lengthAdjust="spacingAndGlyphs"><tspan font-style="italic">P</tspan> = .1</text>
<line x1="376.30" y1="522.60" x2="442.70" y2="522.60" stroke="#404040" stroke-width="1.25"/>
<line x1="376.30" y1="519.60" x2="376.30" y2="525.60" stroke="#404040" stroke-width="1.25"/>
<line x1="442.70" y1="519.60" x2="442.70" y2="525.60" stroke="#404040" stroke-width="1.25"/>
<circle cx="409.50" cy="522.60" r="3.25" fill="#B8102C"/>
<text x="486.00" y="524.90" font-size="7.5" fill="#2b2b2b" textLength="18.48" lengthAdjust="spacingAndGlyphs"><tspan font-style="italic">P</tspan> = .4</text>
<circle cx="398.00" cy="540.35" r="3.25" fill="#B8102C"/>
<text x="401.00" y="436.70" font-size="10.2" fill="#1e1e1e" text-anchor="middle" textLength="53.39" lengthAdjust="spacingAndGlyphs">aGVHD III-IV</text>
<text x="401.00" y="575.20" font-size="9.8" fill="#2a2a2a" text-anchor="middle" textLength="40.00" lengthAdjust="spacingAndGlyphs" stroke="#2a2a2a" stroke-width="0.08">Hazard ratio</text>
<line x1="105.90" y1="608.30" x2="105.90" y2="716.00" stroke="#1c1c1c" stroke-width="1.4"/>
<line x1="105.20" y1="715.30" x2="269.20" y2="715.30" stroke="#1c1c1c" stroke-width="1.4"/>
<line x1="207.00" y1="607.75" x2="207.00" y2="714.70" stroke="#5a5a5a" stroke-width="1.4" stroke-dasharray="1.45 1.8"/>
<line x1="102.30" y1="617.45" x2="105.90" y2="617.45" stroke="#1c1c1c" stroke-width="1.2"/>
<text x="99.10" y="619.55" font-size="7.5" fill="#2b2b2b" text-anchor="end" textLength="65.74" lengthAdjust="spacingAndGlyphs">Non-permissive GVH</text>
<line x1="102.30" y1="635.25" x2="105.90" y2="635.25" stroke="#1c1c1c" stroke-width="1.2"/>
<text x="99.10" y="637.35" font-size="7.5" fill="#2b2b2b" text-anchor="end" textLength="65.74" lengthAdjust="spacingAndGlyphs">Non-permissive HVG</text>
<line x1="102.30" y1="653.05" x2="105.90" y2="653.05" stroke="#1c1c1c" stroke-width="1.2"/>
<text x="99.10" y="655.15" font-size="7.5" fill="#2b2b2b" text-anchor="end" textLength="81.30" lengthAdjust="spacingAndGlyphs">Non-core permissive GVH</text>
<line x1="102.30" y1="670.85" x2="105.90" y2="670.85" stroke="#1c1c1c" stroke-width="1.2"/>
<text x="99.10" y="672.95" font-size="7.5" fill="#2b2b2b" text-anchor="end" textLength="81.30" lengthAdjust="spacingAndGlyphs">Non-core permissive HVG</text>
<line x1="102.30" y1="688.65" x2="105.90" y2="688.65" stroke="#1c1c1c" stroke-width="1.2"/>
<text x="99.10" y="690.75" font-size="7.5" fill="#2b2b2b" text-anchor="end" textLength="50.57" lengthAdjust="spacingAndGlyphs">Core permissive</text>
<line x1="102.30" y1="706.40" x2="105.90" y2="706.40" stroke="#1c1c1c" stroke-width="1.2"/>
<text x="99.10" y="708.50" font-size="7.5" fill="#2b2b2b" text-anchor="end" textLength="19.06" lengthAdjust="spacingAndGlyphs">Match</text>
<line x1="105.50" y1="715.30" x2="105.50" y2="718.70" stroke="#1c1c1c" stroke-width="1.4"/>
<text x="105.50" y="727.80" font-size="8.0" fill="#2b2b2b" text-anchor="middle" textLength="9.45" lengthAdjust="spacingAndGlyphs">0.5</text>
<line x1="207.00" y1="715.30" x2="207.00" y2="718.70" stroke="#1c1c1c" stroke-width="1.2"/>
<text x="207.00" y="727.80" font-size="8.0" fill="#2b2b2b" text-anchor="middle" textLength="3.78" lengthAdjust="spacingAndGlyphs">1</text>
<line x1="266.20" y1="715.30" x2="266.20" y2="718.70" stroke="#1c1c1c" stroke-width="1.2"/>
<text x="266.20" y="727.80" font-size="8.0" fill="#2b2b2b" text-anchor="middle" textLength="9.45" lengthAdjust="spacingAndGlyphs">1.5</text>
<line x1="138.20" y1="617.45" x2="185.80" y2="617.45" stroke="#404040" stroke-width="1.25"/>
<line x1="138.20" y1="614.45" x2="138.20" y2="620.45" stroke="#404040" stroke-width="1.25"/>
<line x1="185.80" y1="614.45" x2="185.80" y2="620.45" stroke="#404040" stroke-width="1.25"/>
<circle cx="162.10" cy="617.45" r="3.25" fill="#B8102C"/>
<text x="232.00" y="619.75" font-size="7.5" fill="#2b2b2b" textLength="30.16" lengthAdjust="spacingAndGlyphs"><tspan font-style="italic">P</tspan> &lt; .0001</text>
<line x1="151.70" y1="635.25" x2="207.10" y2="635.25" stroke="#404040" stroke-width="1.25"/>
<line x1="151.70" y1="632.25" x2="151.70" y2="638.25" stroke="#404040" stroke-width="1.25"/>
<line x1="207.10" y1="632.25" x2="207.10" y2="638.25" stroke="#404040" stroke-width="1.25"/>
<circle cx="179.40" cy="635.25" r="3.25" fill="#B8102C"/>
<text x="232.00" y="637.55" font-size="7.5" fill="#2b2b2b" textLength="26.27" lengthAdjust="spacingAndGlyphs"><tspan font-style="italic">P</tspan> = .010</text>
<line x1="140.80" y1="653.05" x2="197.30" y2="653.05" stroke="#404040" stroke-width="1.25"/>
<line x1="140.80" y1="650.05" x2="140.80" y2="656.05" stroke="#404040" stroke-width="1.25"/>
<line x1="197.30" y1="650.05" x2="197.30" y2="656.05" stroke="#404040" stroke-width="1.25"/>
<circle cx="168.70" cy="653.05" r="3.25" fill="#B8102C"/>
<text x="232.00" y="655.35" font-size="7.5" fill="#2b2b2b" textLength="26.27" lengthAdjust="spacingAndGlyphs"><tspan font-style="italic">P</tspan> &lt; .001</text>
<line x1="164.10" y1="670.85" x2="226.70" y2="670.85" stroke="#404040" stroke-width="1.25"/>
<line x1="164.10" y1="667.85" x2="164.10" y2="673.85" stroke="#404040" stroke-width="1.25"/>
<line x1="226.70" y1="667.85" x2="226.70" y2="673.85" stroke="#404040" stroke-width="1.25"/>
<circle cx="195.90" cy="670.85" r="3.25" fill="#B8102C"/>
<text x="232.00" y="673.15" font-size="7.5" fill="#2b2b2b" textLength="18.48" lengthAdjust="spacingAndGlyphs"><tspan font-style="italic">P</tspan> = .4</text>
<line x1="173.90" y1="688.65" x2="218.40" y2="688.65" stroke="#404040" stroke-width="1.25"/>
<line x1="173.90" y1="685.65" x2="173.90" y2="691.65" stroke="#404040" stroke-width="1.25"/>
<line x1="218.40" y1="685.65" x2="218.40" y2="691.65" stroke="#404040" stroke-width="1.25"/>
<circle cx="195.90" cy="688.65" r="3.25" fill="#B8102C"/>
<text x="232.00" y="690.95" font-size="7.5" fill="#2b2b2b" textLength="18.48" lengthAdjust="spacingAndGlyphs"><tspan font-style="italic">P</tspan> = .2</text>
<circle cx="207.00" cy="706.40" r="3.25" fill="#B8102C"/>
<text x="188.00" y="601.90" font-size="10.2" fill="#1e1e1e" text-anchor="middle" textLength="33.20" lengthAdjust="spacingAndGlyphs">Relapse</text>
<text x="188.00" y="741.70" font-size="9.8" fill="#2a2a2a" text-anchor="middle" textLength="40.00" lengthAdjust="spacingAndGlyphs" stroke="#2a2a2a" stroke-width="0.08">Hazard ratio</text>
<line x1="319.10" y1="608.30" x2="319.10" y2="716.00" stroke="#1c1c1c" stroke-width="1.4"/>
<line x1="318.40" y1="715.30" x2="482.80" y2="715.30" stroke="#1c1c1c" stroke-width="1.4"/>
<line x1="416.20" y1="607.75" x2="416.20" y2="714.70" stroke="#5a5a5a" stroke-width="1.4" stroke-dasharray="1.45 1.8"/>
<line x1="315.50" y1="617.45" x2="319.10" y2="617.45" stroke="#1c1c1c" stroke-width="1.2"/>
<line x1="315.50" y1="635.25" x2="319.10" y2="635.25" stroke="#1c1c1c" stroke-width="1.2"/>
<line x1="315.50" y1="653.05" x2="319.10" y2="653.05" stroke="#1c1c1c" stroke-width="1.2"/>
<line x1="315.50" y1="670.85" x2="319.10" y2="670.85" stroke="#1c1c1c" stroke-width="1.2"/>
<line x1="315.50" y1="688.65" x2="319.10" y2="688.65" stroke="#1c1c1c" stroke-width="1.2"/>
<line x1="315.50" y1="706.40" x2="319.10" y2="706.40" stroke="#1c1c1c" stroke-width="1.2"/>
<line x1="318.70" y1="715.30" x2="318.70" y2="718.70" stroke="#1c1c1c" stroke-width="1.4"/>
<text x="318.70" y="727.80" font-size="8.0" fill="#2b2b2b" text-anchor="middle" textLength="9.45" lengthAdjust="spacingAndGlyphs">0.5</text>
<line x1="416.20" y1="715.30" x2="416.20" y2="718.70" stroke="#1c1c1c" stroke-width="1.2"/>
<text x="416.20" y="727.80" font-size="8.0" fill="#2b2b2b" text-anchor="middle" textLength="3.78" lengthAdjust="spacingAndGlyphs">1</text>
<line x1="473.70" y1="715.30" x2="473.70" y2="718.70" stroke="#1c1c1c" stroke-width="1.2"/>
<text x="473.70" y="727.80" font-size="8.0" fill="#2b2b2b" text-anchor="middle" textLength="9.45" lengthAdjust="spacingAndGlyphs">1.5</text>
<line x1="426.20" y1="617.45" x2="481.60" y2="617.45" stroke="#404040" stroke-width="1.25"/>
<line x1="426.20" y1="614.45" x2="426.20" y2="620.45" stroke="#404040" stroke-width="1.25"/>
<line x1="481.60" y1="614.45" x2="481.60" y2="620.45" stroke="#404040" stroke-width="1.25"/>
<circle cx="453.60" cy="617.45" r="3.25" fill="#B8102C"/>
<text x="486.00" y="619.75" font-size="7.5" fill="#2b2b2b" textLength="26.27" lengthAdjust="spacingAndGlyphs"><tspan font-style="italic">P</tspan> &lt; .001</text>
<line x1="404.60" y1="635.25" x2="471.50" y2="635.25" stroke="#404040" stroke-width="1.25"/>
<line x1="404.60" y1="632.25" x2="404.60" y2="638.25" stroke="#404040" stroke-width="1.25"/>
<line x1="471.50" y1="632.25" x2="471.50" y2="638.25" stroke="#404040" stroke-width="1.25"/>
<circle cx="438.10" cy="635.25" r="3.25" fill="#B8102C"/>
<text x="486.00" y="637.55" font-size="7.5" fill="#2b2b2b" textLength="22.38" lengthAdjust="spacingAndGlyphs"><tspan font-style="italic">P</tspan> = .09</text>
<line x1="389.60" y1="653.05" x2="458.30" y2="653.05" stroke="#404040" stroke-width="1.25"/>
<line x1="389.60" y1="650.05" x2="389.60" y2="656.05" stroke="#404040" stroke-width="1.25"/>
<line x1="458.30" y1="650.05" x2="458.30" y2="656.05" stroke="#404040" stroke-width="1.25"/>
<circle cx="423.40" cy="653.05" r="3.25" fill="#B8102C"/>
<text x="486.00" y="655.35" font-size="7.5" fill="#2b2b2b" textLength="18.48" lengthAdjust="spacingAndGlyphs"><tspan font-style="italic">P</tspan> = .6</text>
<line x1="403.70" y1="670.85" x2="481.90" y2="670.85" stroke="#404040" stroke-width="1.25"/>
<line x1="403.70" y1="667.85" x2="403.70" y2="673.85" stroke="#404040" stroke-width="1.25"/>
<line x1="481.90" y1="667.85" x2="481.90" y2="673.85" stroke="#404040" stroke-width="1.25"/>
<circle cx="442.70" cy="670.85" r="3.25" fill="#B8102C"/>
<text x="486.00" y="673.15" font-size="7.5" fill="#2b2b2b" textLength="22.38" lengthAdjust="spacingAndGlyphs"><tspan font-style="italic">P</tspan> = .08</text>
<line x1="399.40" y1="688.65" x2="457.70" y2="688.65" stroke="#404040" stroke-width="1.25"/>
<line x1="399.40" y1="685.65" x2="399.40" y2="691.65" stroke="#404040" stroke-width="1.25"/>
<line x1="457.70" y1="685.65" x2="457.70" y2="691.65" stroke="#404040" stroke-width="1.25"/>
<circle cx="428.60" cy="688.65" r="3.25" fill="#B8102C"/>
<text x="486.00" y="690.95" font-size="7.5" fill="#2b2b2b" textLength="18.48" lengthAdjust="spacingAndGlyphs"><tspan font-style="italic">P</tspan> = .3</text>
<circle cx="416.20" cy="706.40" r="3.25" fill="#B8102C"/>
<text x="401.30" y="601.90" font-size="10.2" fill="#1e1e1e" text-anchor="middle" textLength="21.07" lengthAdjust="spacingAndGlyphs">NRM</text>
<text x="401.30" y="741.70" font-size="9.8" fill="#2a2a2a" text-anchor="middle" textLength="40.00" lengthAdjust="spacingAndGlyphs" stroke="#2a2a2a" stroke-width="0.08">Hazard ratio</text>
<text x="7.70" y="18.20" font-size="13" fill="#000" font-weight="bold" stroke="#000" stroke-width="0.45">A</text>
<text x="7.90" y="439.00" font-size="13" fill="#000" font-weight="bold" textLength="8.30" lengthAdjust="spacingAndGlyphs" stroke="#000" stroke-width="0.45">B</text>
<rect x="0.5" y="0.5" width="519" height="750" fill="none" stroke="#686868" stroke-width="1"/>
</svg>
</body></html>
